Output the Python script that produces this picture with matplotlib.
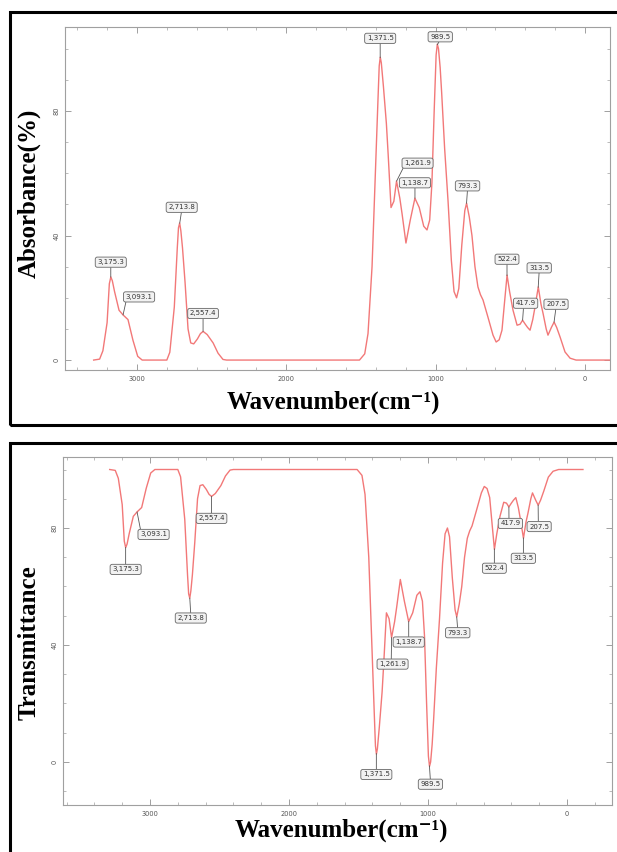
import numpy as np
import matplotlib
matplotlib.use("Agg")
import matplotlib.pyplot as plt
from matplotlib.patches import Rectangle
from matplotlib.ticker import MultipleLocator

# spectrum (cm-1, %)
wavenumber = [3290, 3250, 3228, 3200, 3185, 3175, 3165, 3150, 3120, 3093, 3060, 3027, 2995, 2965,
              2800, 2780, 2750, 2730, 2722, 2714, 2706, 2695, 2678, 2658, 2640, 2620, 2595, 2575,
              2557, 2530, 2490, 2457, 2424, 2400,
              1510, 1475, 1453, 1426, 1406, 1386, 1378, 1371, 1364, 1350, 1330, 1318, 1299, 1280,
              1262, 1240, 1225, 1199, 1170, 1139, 1110, 1080, 1058, 1040, 1025, 1010,
              997, 989, 981, 970, 960, 940, 917, 895, 877, 860, 845, 825, 805, 793, 775,
              757, 737, 717, 700, 683, 650, 616, 595, 575, 556, 540, 522, 505, 482,
              455, 435, 418, 400, 385, 368, 350, 335, 313, 295, 281, 260, 248, 225,
              207, 190, 167, 134, 100, 60, -115, -170]
absorbance = [0, 0.3, 3, 12, 24.5, 26.7, 25.5, 22, 16, 14.5, 13, 6.4, 1.2, 0,
              0, 2.5, 17, 36, 42.5, 44, 41.5, 36, 25, 10, 5.5, 5.2, 6.8, 8.5,
              9.2, 8.2, 5.5, 2.2, 0.2, 0,
              0, 2, 8.5, 30, 57, 84, 94.5, 97.3, 95.5, 88, 76, 66, 49, 51,
              57.5, 52, 47, 37.6, 45, 52, 49, 43, 41.8, 45, 57, 80,
              98, 101.5, 100, 94, 86, 68, 51, 32, 22, 20, 23, 37, 48, 50.4, 46,
              40, 30, 23.5, 21, 19.3, 13.8, 8, 5.8, 6.5, 9.6, 18, 27.3, 22, 16,
              11.2, 11.5, 12.8, 11.5, 10.5, 9.6, 13, 17, 23.5, 18, 15, 10, 8, 10.5,
              12.2, 10.5, 7.4, 2.6, 0.6, 0, 0, 0]

peak_wn = [3175.3, 3093.1, 2713.8, 2557.4, 1371.5, 1261.9, 1138.7,
           989.5, 793.3, 522.4, 417.9, 313.5, 207.5]
peak_text = ['3,175.3', '3,093.1', '2,713.8', '2,557.4', '1,371.5', '1,261.9', '1,138.7',
             '989.5', '793.3', '522.4', '417.9', '313.5', '207.5']

wn = np.array(wavenumber, dtype=float)
ab = np.array(absorbance, dtype=float)
tr = 100 - ab

# label box offsets in pixels (dx, dy) and where the leader leaves the box
top_off = [(0, 15), (16, 18), (2, 16), (0, 18), (0, 19.5), (21, 18), (0, 15.5),
           (3, 8), (1, 17.5), (0, 16.5), (3, 17), (1, 19.5), (2, 18)]
top_rel = [0.5, 0.03, 0.5, 0.5, 0.5, 0.0, 0.5, 0.5, 0.5, 0.5, 0.4, 0.5, 0.5]
bot_off = [(0, -22), (16.5, -22.5), (1, -20), (0, -22), (0, -21), (1, -26.5), (0, -20.5),
           (1, -18.5), (1, -16), (0, -19.5), (1.5, -16.5), (0, -20.5), (1, -21.5)]
bot_rel = [0.5, 0.03, 0.5, 0.5, 0.5, 0.45, 0.5, 0.5, 0.5, 0.5, 0.43, 0.5, 0.46]

line_color = '#f27878'
spine_color = '#a0a0a0'

fig = plt.figure(figsize=(6.17, 8.52), dpi=100)


def style_axes(ax):
    for s in ax.spines.values():
        s.set_color(spine_color)
        s.set_linewidth(0.8)
    ax.xaxis.set_major_locator(MultipleLocator(1000))
    ax.xaxis.set_minor_locator(MultipleLocator(200))
    ax.yaxis.set_major_locator(MultipleLocator(40))
    ax.yaxis.set_minor_locator(MultipleLocator(10))
    ax.tick_params(which='both', direction='in', top=True, right=True,
                   color=spine_color, labelcolor='#555555', labelsize=4.8, pad=4)
    ax.tick_params(which='major', length=4, width=0.7)
    ax.tick_params(which='minor', length=2, width=0.5)
    for lab in ax.get_yticklabels():
        lab.set_rotation(90)
        lab.set_va('center')


def add_labels(ax, y, offsets, rels, below):
    for w, txt, off, rel in zip(peak_wn, peak_text, offsets, rels):
        yy = np.interp(w, wn[::-1], y[::-1])
        ax.annotate(txt, xy=(w, yy), xytext=off, textcoords='offset pixels',
                    ha='center', va='center', fontsize=5, color='#333333',
                    bbox=dict(boxstyle='round,pad=0.3', fc='#f2f2f2', ec='#666666', lw=0.6),
                    arrowprops=dict(arrowstyle='-', color='#555555', lw=0.6,
                                    shrinkA=0, shrinkB=0,
                                    relpos=(rel, 1 if below else 0)))


# top: absorbance
ax1 = fig.add_axes([0.1053, 0.5657, 0.8833, 0.4026])
ax1.plot(wn, ab, color=line_color, lw=1.0)
ax1.set_xlim(3482, -167)
ax1.set_ylim(-3.2, 107)
style_axes(ax1)
add_labels(ax1, ab, top_off, top_rel, False)

# bottom: transmittance
ax2 = fig.add_axes([0.1021, 0.0552, 0.8898, 0.4085])
keep = wn >= -115
ax2.plot(wn[keep], tr[keep], color=line_color, lw=1.0)
ax2.set_xlim(3626, -324)
ax2.set_ylim(-14.7, 104.3)
style_axes(ax2)
add_labels(ax2, tr, bot_off, bot_rel, True)

serif = dict(family=['Liberation Serif', 'DejaVu Serif'], fontweight='bold', fontsize=18)
xlab = 'Wavenumber(cm\u207b\u00b9)'
fig.text(0.047, 0.7735, 'Absorbance(%)', rotation=90, ha='center', va='center', **serif)
fig.text(0.541, 0.528, xlab, ha='center', va='center', **serif)
fig.text(0.047, 0.246, 'Transmittance', rotation=90, ha='center', va='center', **serif)
fig.text(0.553, 0.026, xlab, ha='center', va='center', **serif)

fig.patches.append(Rectangle((0.0162, 0.5012), 1.0, 0.4847, transform=fig.transFigure,
                             fill=False, ec='black', lw=2.2))
fig.patches.append(Rectangle((0.0162, -0.02), 1.0, 0.5, transform=fig.transFigure,
                             fill=False, ec='black', lw=2.2))

fig.savefig('out.png', dpi=100)
